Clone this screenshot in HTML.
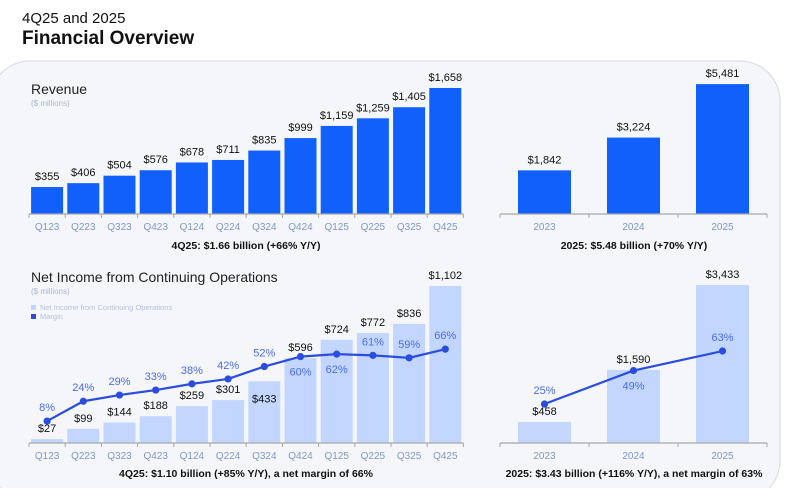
<!DOCTYPE html>
<html><head><meta charset="utf-8"><style>
body{margin:0;width:786px;height:488px;overflow:hidden;background:#fff;font-family:"Liberation Sans",sans-serif}
svg text{font-family:"Liberation Sans",sans-serif}
</style></head><body>
<svg id="chart" width="786" height="488" viewBox="0 0 786 488" xmlns="http://www.w3.org/2000/svg">
<rect x="-10" y="61" width="790" height="440" rx="40" fill="#f5f6fa" stroke="#d8d9de"/>
<text x="22" y="23" font-size="15" fill="#111">4Q25 and 2025</text>
<text x="22" y="44" font-size="19" font-weight="bold" fill="#111">Financial Overview</text>
<text x="31" y="94" font-size="14" fill="#222">Revenue</text>
<text x="31" y="106" font-size="8" fill="#a9b6d6">($ millions)</text>
<text x="31" y="282" font-size="14" fill="#222">Net Income from Continuing Operations</text>
<text x="31" y="294" font-size="8" fill="#a9b6d6">($ millions)</text>
<rect x="31" y="305" width="5" height="5" fill="#c2d6ff"/>
<text x="40" y="310" font-size="7.5" fill="#b4c2e0">Net Income from Continuing Operations</text>
<rect x="31" y="314" width="5" height="5" fill="#2a4de0"/>
<text x="40" y="319" font-size="7.5" fill="#b4c2e0">Margin</text>
<g id="g"></g>
</svg>
<script>
const qCats=["Q123","Q223","Q323","Q423","Q124","Q224","Q324","Q424","Q125","Q225","Q325","Q425"];
const qRevenue=[355,406,504,576,678,711,835,999,1159,1259,1405,1658];
const qNetIncome=[27,99,144,188,259,301,433,596,724,772,836,1102];
const qMargin=[8,24,29,33,38,42,52,60,62,61,59,66];
const qMarginLabelBelow=[0,0,0,0,0,0,0,1,1,0,0,0];
const qIncomeLabelInside=[0,0,0,0,0,0,1,0,0,0,0,0];
const yCats=["2023","2024","2025"];
const yRevenue=[1842,3224,5481];
const yNetIncome=[458,1590,3433];
const yMargin=[25,49,63];
const yMarginLabelBelow=[0,1,0];
const fmt=v=>"$"+v.toLocaleString("en-US");
const NS="http://www.w3.org/2000/svg";
const G=document.getElementById("g");
function el(t,a,txt){const e=document.createElementNS(NS,t);for(const k in a)e.setAttribute(k,a[k]);if(txt!==undefined)e.textContent=txt;G.appendChild(e);return e;}
function axis(x0,pitch,n,y,cats,prefix){
  const a=el("line",{x1:x0,x2:x0+pitch*n,y1:y,y2:y,stroke:"#a8a8a8","stroke-width":1.2});
  
  
  for(let i=0;i<=n;i++){const t=el("line",{x1:x0+pitch*i,x2:x0+pitch*i,y1:y,y2:y+4,stroke:"#a8a8a8"});
    
    }
  cats.forEach((c,i)=>{const t=el("text",{x:x0+pitch*(i+.5),y:y+16,"font-size":10,fill:"#7f98c9","text-anchor":"middle"},c);
    
    });
}
function bars(x0,pitch,bw,y,vals,scale,color,prefix,inside){
  vals.forEach((v,i)=>{const h=v*scale,cx=x0+pitch*(i+.5);
    const r=el("rect",{x:cx-bw/2,y:y-h,width:bw,height:h,fill:color});
    
    
    const ly=(inside&&inside[i])?y-h+21:y-h-7;
    const t=el("text",{x:cx,y:ly,"font-size":11,fill:"#111","text-anchor":"middle"},fmt(v));
    
    });
}
function line(x0,pitch,y,vals,a,b,below,prefix){
  const pts=vals.map((m,i)=>[x0+pitch*(i+.5),y-a-b*m]);
  const p=el("polyline",{points:pts.map(p=>p.join(",")).join(" "),fill:"none",stroke:"#2a4de0","stroke-width":2.2});
  
  
  pts.forEach((q,i)=>{const c=el("circle",{cx:q[0],cy:q[1],r:3.6,fill:"#2a4de0"});
    
    
    const t=el("text",{x:q[0],y:below[i]?q[1]+19:q[1]-10,"font-size":11,fill:"#4a6cf0","text-anchor":"middle"},vals[i]+"%");
    
    });
}
function cap(x,y,s,name){const t=el("text",{x:x,y:y,"font-size":10.5,"font-weight":"bold",fill:"#111","text-anchor":"middle"},s);
  
  }
bars(29,36.2,32,214,qRevenue,0.076,"#1260fb","q-revenue");
axis(29,36.2,12,214,qCats,"q-revenue");
cap(246,249,"4Q25: $1.66 billion (+66% Y/Y)","q-revenue-caption");
bars(500,89,53,214,yRevenue,0.0237,"#1260fb","y-revenue");
axis(500,89,3,214,yCats,"y-revenue");
cap(634,249,"2025: $5.48 billion (+70% Y/Y)","y-revenue-caption");
bars(29,36.2,32,443,qNetIncome,0.1425,"#c2d6ff","q-income",qIncomeLabelInside);
axis(29,36.2,12,443,qCats,"q-income");
line(29,36.2,443,qMargin,12,1.24,qMarginLabelBelow,"q-income");
cap(246,477,"4Q25: $1.10 billion (+85% Y/Y), a net margin of 66%","q-income-caption");
bars(500,89,53,443,yNetIncome,0.046,"#c2d6ff","y-income");
axis(500,89,3,443,yCats,"y-income");
line(500,89,443,yMargin,4.1,1.395,yMarginLabelBelow,"y-income");
cap(634,477,"2025:  $3.43 billion (+116% Y/Y), a net margin of 63%","y-income-caption");
</script>
</body></html>
